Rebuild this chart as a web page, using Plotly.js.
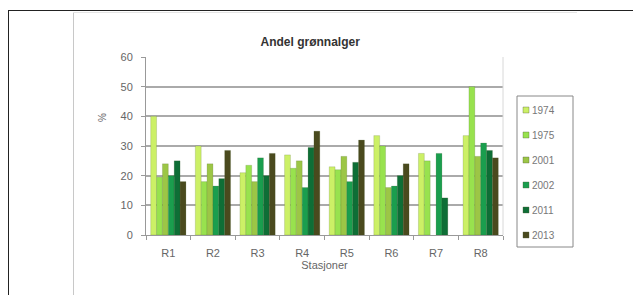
<!DOCTYPE html>
<html><head><meta charset="utf-8">
<script src="https://cdn.plot.ly/plotly-3.0.1.min.js"></script>
<style>
html,body{margin:0;padding:0;background:#fff;}
#wrap{position:relative;width:633px;height:295px;overflow:hidden;}
#chart{position:absolute;left:0;top:0;width:633px;height:295px;}
.ln{position:absolute;}
</style></head>
<body><div id="wrap">
<div class="ln" style="left:8px;top:10px;width:625px;height:1px;background:#222;"></div>
<div class="ln" style="left:8px;top:10px;width:1px;height:285px;background:#222;"></div>
<div class="ln" style="left:73px;top:12px;width:1px;height:283px;background:#c8c8c8;"></div>
<div class="ln" style="left:73px;top:12px;width:504px;height:1px;background:#e4e4e4;"></div>
<div id="chart"></div>
</div>
<script>
const stations = ["R1","R2","R3","R4","R5","R6","R7","R8"];
const years = ["1974","1975","2001","2002","2011","2013"];
const v1974 = [40, 30, 21, 27, 23, 33.5, 27.5, 33.5];
const v1975 = [19.5, 18, 23.5, 22.5, 22, 30, 25, 50];
const v2001 = [24, 24, 18, 25, 26.5, 16, null, 26.5];
const v2002 = [20, 16.5, 26, 16, 18, 16.5, 27.5, 31];
const v2011 = [25, 19, 20, 29.5, 24.5, 20, 12.5, 28.5];
const v2013 = [18, 28.5, 27.5, 35, 32, 24, null, 26];
const series = [v1974, v1975, v2001, v2002, v2011, v2013];
const colors = ["#ccf066", "#98e24e", "#9cc646", "#1a9e4e", "#0e6e36", "#4a4a1e"];

const traces = series.map((vals, i) => ({
  type: "bar",
  name: years[i],
  x: stations,
  y: vals,
  marker: {color: colors[i], line: {color: "rgba(60,80,30,0.35)", width: 0.5}}
}));

// Manual legend (plot area: x 146..503 px, y 57..235 px)
const PL = 146, PW = 357, PB = 235, PH = 178;
const px = v => (v - PL) / PW;
const py = v => (PB - v) / PH;
const shapes = [
  {type: "line", xref: "paper", yref: "paper", x0: 1, x1: 1, y0: 0, y1: 1, line: {color: "#d8d8d8", width: 1}},
  {type: "rect", xref: "paper", yref: "paper", x0: px(517), x1: px(573), y0: py(247), y1: py(96),
   line: {color: "#888", width: 1}, fillcolor: "#fff"}
];
const annotations = [
  {xref: "paper", yref: "paper", x: px(102), y: py(118), xanchor: "center", yanchor: "middle",
   text: "%", textangle: -90, showarrow: false, font: {size: 10, color: "#666"}}
];
years.forEach((yr, i) => {
  const cy = 110 + i * 25;
  shapes.push({type: "rect", xref: "paper", yref: "paper", x0: px(523), x1: px(529), y0: py(cy + 3), y1: py(cy - 3),
    fillcolor: colors[i], line: {color: "rgba(80,90,60,0.6)", width: 0.6}});
  annotations.push({xref: "paper", yref: "paper", x: px(530), y: py(cy), xanchor: "left", yanchor: "middle",
    text: yr, showarrow: false, font: {size: 10, color: "#777"}});
});

const layout = {
  width: 633, height: 295,
  margin: {l: 146, r: 130, t: 57, b: 60, pad: 0},
  paper_bgcolor: "rgba(0,0,0,0)",
  plot_bgcolor: "#ffffff",
  barmode: "group",
  bargap: 0.21,
  bargroupgap: 0,
  showlegend: false,
  font: {family: "Liberation Sans, Arial, sans-serif", size: 11, color: "#555"},
  title: {text: "<b>Andel grønnalger</b>", x: 0.49, xanchor: "center", y: 0.86, yanchor: "middle",
          font: {size: 12, color: "#333", family: "Liberation Sans, Arial, sans-serif"}},
  xaxis: {
    type: "category",
    showgrid: false,
    showline: true, linecolor: "#999", linewidth: 1,
    ticks: "outside", tickson: "boundaries", ticklen: 4, tickcolor: "#999",
    ticklabelstandoff: 8,
    tickfont: {size: 11, color: "#666"},
    title: {text: "Stasjoner", standoff: 0, font: {size: 11, color: "#666"}}
  },
  yaxis: {
    range: [0, 60], dtick: 10,
    showgrid: true, gridcolor: "#aaaaaa", gridwidth: 2,
    showline: true, linecolor: "#999", linewidth: 1,
    ticks: "outside", ticklen: 4, tickcolor: "#999",
    ticklabelstandoff: 6,
    tickfont: {size: 11, color: "#666"},
    zeroline: false
  },
  shapes: shapes,
  annotations: annotations
};

Plotly.newPlot("chart", traces, layout, {displayModeBar: false, staticPlot: true});
</script>
</body></html>
